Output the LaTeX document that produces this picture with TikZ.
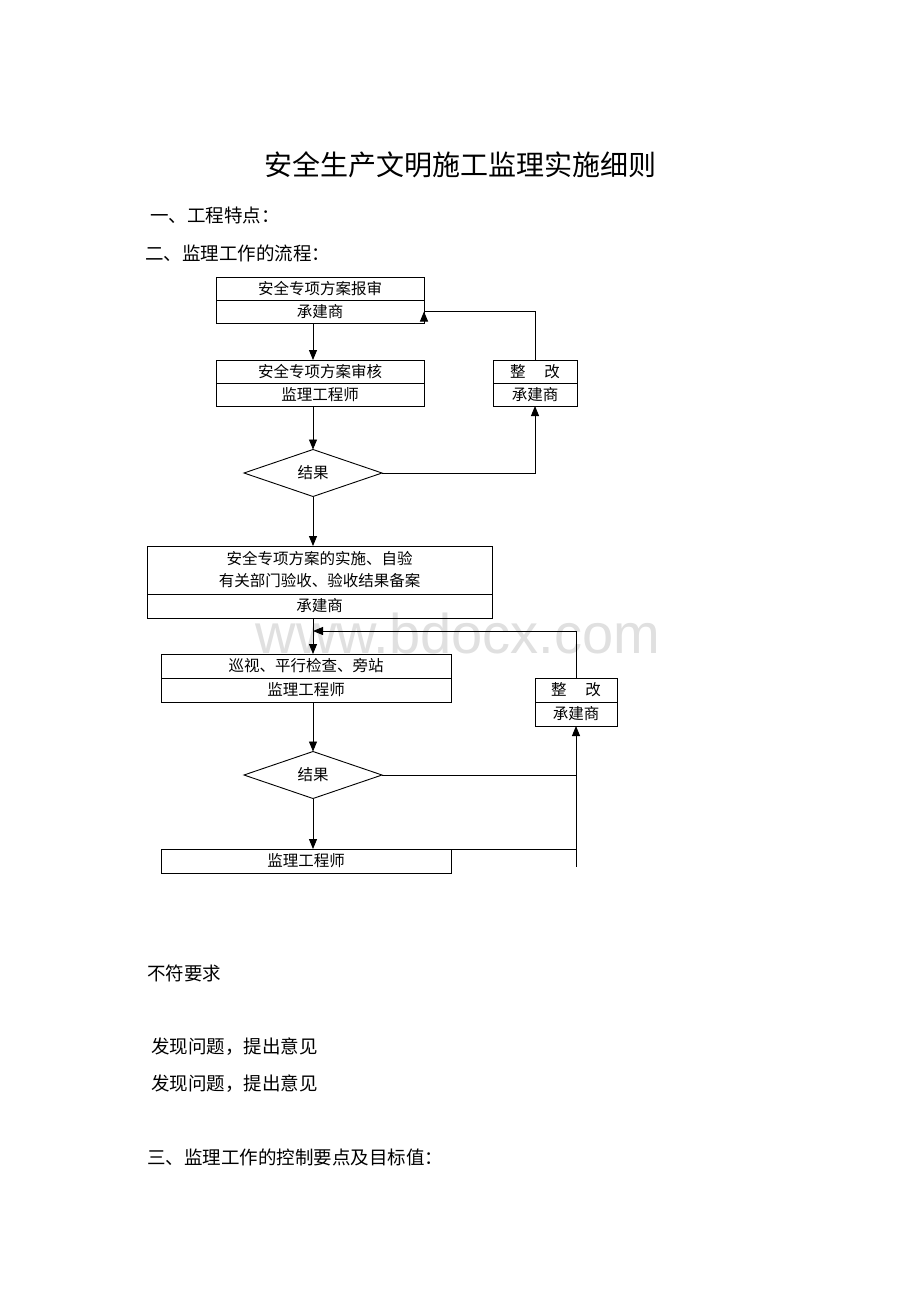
\documentclass[tikz,border=0pt]{standalone}
\usepackage{fontspec}
\newfontfamily\cjk{Noto Sans CJK SC}
\newfontfamily\wmfont{Liberation Sans}
\usetikzlibrary{arrows.meta,shapes.geometric,calc}
\begin{document}
\begin{tikzpicture}[x=1pt,y=-1pt,
  every node/.style={font=\cjk, inner sep=0pt, outer sep=0pt},
  cell/.style={draw, line width=0.9pt, minimum height=#1, font=\cjk\fontsize{15.5}{17}\selectfont},
  cell/.default=23,
  dec/.style={draw, diamond, aspect=2.94, line width=0.9pt, minimum width=138, minimum height=47, font=\cjk\fontsize{15.5}{17}\selectfont},
  line/.style={line width=0.9pt},
  arr/.style={line width=0.9pt, -{Triangle[length=10pt,width=8pt]}},
  body/.style={anchor=west, font=\cjk\fontsize{18.5}{20}\selectfont}
]
\useasboundingbox (0,0) rectangle (920,1302);
\fill[white] (0,0) rectangle (920,1302);

% watermark
\node[text=black!12, font=\wmfont\fontsize{56}{60}\selectfont] (wm) at (458,633) {www.bdocx.com};

% title and headings
\node[font=\cjk\fontsize{28}{32}\selectfont] (title) at (460,165) {安全生产文明施工监理实施细则};
\node[body] (h1) at (150,215) {一、工程特点：};
\node[body] (h2) at (145,253) {二、监理工作的流程：};

\coordinate (axis) at (313,0);

% box 1
\node[cell, minimum width=208] (b1t) at (320,288.5) {安全专项方案报审};
\node[cell, minimum width=208, anchor=north] (b1b) at (b1t.south) {承建商};
% box 2
\node[cell, minimum width=208] (b2t) at (320,371.5) {安全专项方案审核};
\node[cell, minimum width=208, anchor=north] (b2b) at (b2t.south) {监理工程师};
% rectify 1
\node[cell, minimum width=84] (r1t) at (535,371.5) {整\hspace{1.2em}改};
\node[cell, minimum width=84, anchor=north] (r1b) at (r1t.south) {承建商};
% decision 1
\node[dec] (d1) at (313,473) {结果};
% box 3
\node[cell=48, minimum width=345, align=center, font=\cjk\fontsize{15.5}{22}\selectfont] (b3t) at (319.5,570) {安全专项方案的实施、自验\\有关部门验收、验收结果备案};
\node[cell=24, minimum width=345, anchor=north] (b3b) at (b3t.south) {承建商};
% box 4
\node[cell=24, minimum width=290] (b4t) at (306,666) {巡视、平行检查、旁站};
\node[cell=24, minimum width=290, anchor=north] (b4b) at (b4t.south) {监理工程师};
% rectify 2
\node[cell=24, minimum width=82] (r2t) at (576,690) {整\hspace{1.2em}改};
\node[cell=24, minimum width=82, anchor=north] (r2b) at (r2t.south) {承建商};
% decision 2
\node[dec] (d2) at (313,775) {结果};
% bottom box
\node[cell=24, minimum width=290] (b5) at (306,861) {监理工程师};

\coordinate (rx2) at (576,867);
\coordinate (fb2) at (576,631);

% connectors, main column
\draw[arr] (b1b.south -| axis) -- (b2t.north -| axis);
\draw[arr] (b2b.south -| axis) -- (d1.north);
\draw[arr] (d1.south) -- (b3t.north -| axis);
\draw[arr] (b3b.south -| axis) -- (b4t.north -| axis);
\draw[arr] (b4b.south -| axis) -- (d2.north);
\draw[arr] (d2.south) -- (b5.north -| axis);

% feedback loop 1
\draw[line] (d1.east) -| ($(r1b.south)+(0,8)$);
\draw[arr] ($(r1b.south)+(0,9)$) -- (r1b.south);
\draw[arr] (r1t.north) |- (b1b.north east |- b1b.west) -- (b1b.east);

% feedback loop 2
\draw[line] (d2.east) -- (d2.east -| r2b.south);
\draw[arr] (d2.east -| r2b.south) -- (r2b.south);
\draw[line] (r2b.south |- d2.east) ++(0,-24) -- (rx2);
\draw[line] (b5.north east) -- (b5.north east -| rx2);
\draw[arr] (r2t.north) -- (fb2) -- (fb2 -| axis);

% lower texts
\node[body] (t1) at (147,973) {不符要求};
\node[body] (t2) at (151,1047) {发现问题，提出意见};
\node[body] (t3) at (151,1084) {发现问题，提出意见};
\node[body] (h3) at (147,1157) {三、监理工作的控制要点及目标值：};
\end{tikzpicture}
\end{document}
